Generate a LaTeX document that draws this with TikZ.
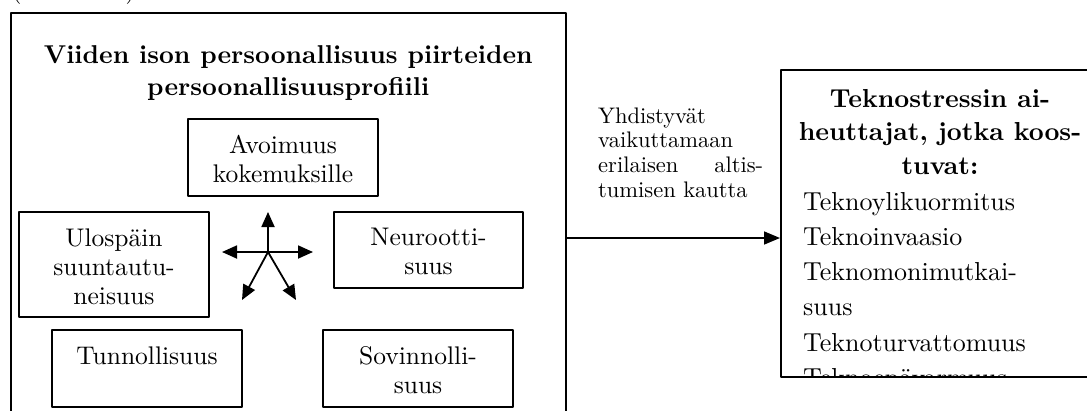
\documentclass[tikz,border=0pt]{standalone}
\usepackage{fontspec}
\setmainfont{lmroman10}[Extension=.otf, UprightFont=*-regular, BoldFont=*-bold,
  ItalicFont=*-italic, BoldItalicFont=*-bolditalic]
\usetikzlibrary{arrows.meta,positioning}

\begin{document}
\begin{tikzpicture}[x=1pt, y=-1pt, line join=round,
  frame/.style={draw, line width=1.5pt, inner sep=0pt},
  trait/.style={draw, line width=1.4pt, minimum width=190pt, inner sep=0pt},
  traittext/.style={anchor=north, align=center, inner sep=0pt, font=\fontsize{25.5}{29}\selectfont},
  spoke/.style={line width=1.8pt, -{Triangle[length=15pt,width=13pt]}},
  link/.style={line width=1.6pt, -{Triangle[length=16pt,width=13pt]}}]
  % ---- page and clipping
  \useasboundingbox (0,0) rectangle (1087,410);
  \clip (0,0) rectangle (1087,410);
  \node[anchor=base west, inner sep=0pt, font=\fontsize{24}{28}\selectfont] (caption) at (12,-2) {(\hspace{104pt})};

  % ---- left frame: the five traits
  \node[frame, anchor=north west, minimum width=555pt, minimum height=420pt] (profile) at (10,12) {};
  \node[anchor=north, align=center, inner sep=0pt, font=\bfseries\fontsize{25.8}{32}\selectfont]
    (profiletitle) at ([yshift=-33pt]profile.north) {Viiden ison persoonallisuus piirteiden\\ persoonallisuusprofiili};

  \node[trait, minimum height=77pt] (open) at (283,157.5) {};
  \node[trait, minimum height=105pt] (extra) at (114,264.5) {};
  \node[trait, minimum height=76pt, minimum width=189pt] (neuro) at (428.5,250) {};
  \node[trait, minimum height=77pt] (consc) at (147,368.5) {};
  \node[trait, minimum height=77pt] (agree) at (418,368.5) {};

  \node[traittext] (opentext) at ([yshift=-17pt]open.north) {Avoimuus\\ kokemuksille};
  \node[traittext] (extratext) at ([yshift=-17pt]extra.north) {Ulospäin\\ suuntautu-\\ neisuus};
  \node[traittext] (neurotext) at ([yshift=-17pt]neuro.north) {Neurootti-\\ suus};
  \node[traittext] (consctext) at ([yshift=-17pt]consc.north) {Tunnollisuus};
  \node[traittext] (agreetext) at ([yshift=-17pt]agree.north) {Sovinnolli-\\ suus};

  % star of arrows
  \coordinate (hub) at (268,252);
  \foreach \d/\dx/\dy in {n/0/-40, w/-46/0, e/45/0, sw/-26/48, se/28/48}{
    \path (hub) ++(\dx,\dy) coordinate (hub-\d);
    \draw[spoke] (hub) -- (hub-\d);
  }

  % ---- right frame: technostress creators
  \node[frame, anchor=north west, minimum width=320pt, minimum height=307pt] (stress) at (780,69) {};
  \node[anchor=north, align=center, inner sep=0pt, font=\bfseries\fontsize{26}{33.5}\selectfont]
    (stresstitle) at (940,89) {Teknostressin ai-\\ heuttajat, jotka koos-\\ tuvat:};
  \begin{scope}
    \clip ([shift={(1pt,1pt)}]stress.south west) rectangle ([shift={(-1pt,-1pt)}]stress.north east);
    \node[anchor=north west, align=left, inner sep=0pt, font=\fontsize{26}{35.2}\selectfont]
      (stresslist) at (803,192) {Teknoylikuormitus\\ Teknoinvaasio\\ Teknomonimutkai-\\ suus\\ Teknoturvattomuus\\ Teknoepävarmuus};
  \end{scope}

  % ---- connector with its label
  \node[anchor=north west, align=left, text width=165pt, inner sep=0pt, font=\fontsize{22.5}{24.7}\selectfont]
    (via) at (598,107.4) {Yhdistyvät\\ vaikuttamaan\\ erilaisen\hfill altis-\\ tumisen kautta};
  \coordinate (joint) at (672,238);
  \draw[link] (joint -| profile.east) -- (joint -| stress.west);
\end{tikzpicture}
\end{document}
